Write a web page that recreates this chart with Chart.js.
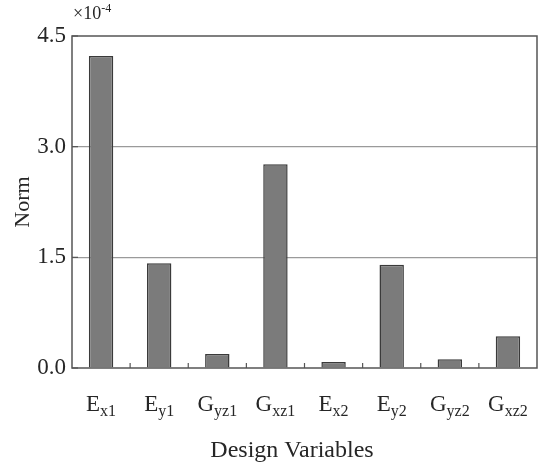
<!DOCTYPE html>
<html><head><meta charset="utf-8">
<script src="https://cdn.jsdelivr.net/npm/chart.js@4"></script>
<style>html,body{margin:0;padding:0;background:#fff}#wrap{width:545px;height:467px}</style>
</head><body><div id="wrap"><canvas id="c" width="545" height="467"></canvas></div>
<script>
const categories = ["Ex1","Ey1","Gyz1","Gxz1","Ex2","Ey2","Gyz2","Gxz2"];
const labelMain = ["E","E","G","G","E","E","G","G"];
const labelSub = ["x1","y1","yz1","xz1","x2","y2","yz2","xz2"];
const normValues = [4.23, 1.42, 0.19, 2.76, 0.08, 1.40, 0.12, 0.43];
const yTicks = [0, 1.5, 3.0, 4.5];
const FONT = '"Liberation Serif", "Times New Roman", serif';
const TXT = '#262626';

const decor = {
  id: 'decor',
  afterDatasetsDraw(chart) {
    const {ctx, chartArea: a, scales: {x, y}} = chart;
    ctx.save();
    // frame
    ctx.strokeStyle = '#555';
    ctx.lineWidth = 1.5;
    ctx.strokeRect(a.left, a.top, a.right - a.left, a.bottom - a.top);
    // x ticks between categories
    ctx.lineWidth = 1.2;
    for (let i = 0; i < categories.length - 1; i++) {
      const px = (x.getPixelForValue(i) + x.getPixelForValue(i + 1)) / 2;
      ctx.beginPath(); ctx.moveTo(px, a.bottom); ctx.lineTo(px, a.bottom - 5); ctx.stroke();
    }
    // y ticks
    yTicks.forEach(v => {
      const py = y.getPixelForValue(v);
      ctx.beginPath(); ctx.moveTo(a.left, py); ctx.lineTo(a.left + 6, py); ctx.stroke();
    });
    // x labels with subscripts
    ctx.fillStyle = TXT;
    ctx.textBaseline = 'alphabetic';
    categories.forEach((c, i) => {
      const px = x.getPixelForValue(i);
      ctx.font = '23px ' + FONT;
      const w1 = ctx.measureText(labelMain[i]).width;
      ctx.font = '16px ' + FONT;
      const w2 = ctx.measureText(labelSub[i]).width;
      const start = px - (w1 + w2) / 2;
      ctx.font = '23px ' + FONT;
      ctx.textAlign = 'left';
      ctx.fillText(labelMain[i], start, 411);
      ctx.font = '16px ' + FONT;
      ctx.fillText(labelSub[i], start + w1, 416);
    });
    // x title
    ctx.font = '24px ' + FONT;
    ctx.textAlign = 'center';
    ctx.fillText('Design Variables', 292, 457);
    // exponent
    ctx.textAlign = 'left';
    ctx.font = '18px ' + FONT;
    ctx.fillText('\u00d710', 73, 19);
    const we = ctx.measureText('\u00d710').width;
    ctx.font = '12px ' + FONT;
    ctx.fillText('-4', 73 + we, 12);
    ctx.restore();
  }
};

new Chart(document.getElementById('c'), {
  type: 'bar',
  data: {
    labels: categories,
    datasets: [{
      data: normValues,
      backgroundColor: '#7b7b7b',
      borderColor: '#3a3a3a',
      borderWidth: 1.5,
      categoryPercentage: 1,
      barPercentage: 0.42
    }]
  },
  plugins: [decor],
  options: {
    responsive: false,
    animation: false,
    layout: {padding: {top: 36, right: 8, left: 0, bottom: 0}},
    plugins: {legend: {display: false}, tooltip: {enabled: false}},
    scales: {
      x: {
        grid: {display: false},
        border: {display: false},
        ticks: {display: false},
        afterFit(s) { s.height = 99; }
      },
      y: {
        min: 0, max: 4.5,
        afterBuildTicks(s) { s.ticks = yTicks.map(v => ({value: v})); },
        afterFit(s) { s.width = 72; },
        grid: {
          color: ctx => (ctx.tick && (ctx.tick.value === 1.5 || ctx.tick.value === 3)) ? '#9a9a9a' : 'rgba(0,0,0,0)',
          lineWidth: 1.2,
          drawTicks: false
        },
        border: {display: false},
        ticks: {
          padding: 6,
          color: TXT,
          font: {family: FONT, size: 23},
          callback: v => Number(v).toFixed(1)
        },
        title: {
          display: true, text: 'Norm', color: TXT,
          font: {family: FONT, size: 22},
          padding: {top: 10, bottom: 0}
        }
      }
    }
  }
});
</script></body></html>
